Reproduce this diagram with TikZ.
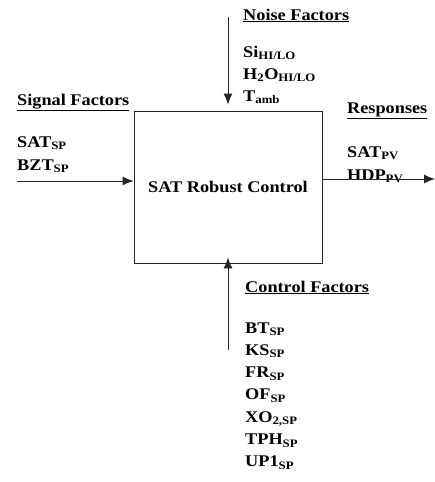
\documentclass[tikz,border=0pt]{standalone}
\usepackage{fontspec}
\setmainfont[FakeStretch=1.12]{Liberation Serif}
\usetikzlibrary{arrows.meta}
\tikzset{
    factor/.style={anchor=base west, inner sep=0pt, font=\fontsize{16.3}{19}\selectfont\bfseries},
    flow/.style={-{Latex[length=11pt,width=9pt]}, line width=0.9pt, draw=black!85}
}
\begin{document}
\begin{tikzpicture}[x=1pt, y=-1pt]
    \useasboundingbox (0,0) rectangle (435,482);
    % Process box
    \node[draw=black!85, line width=0.9pt, minimum width=188pt, minimum height=152pt,
          font=\fontsize{16.3}{19}\selectfont\bfseries] (box) at (228,187) {SAT Robust Control};

    % Noise factors
    \node[factor] (noise) at (243,20) {\underline{Noise Factors}};
    \node[factor] (si) at (243,57) {Si\textsubscript{HI/LO}};
    \node[factor] (water) at (243,79) {H\textsubscript{2}O\textsubscript{HI/LO}};
    \node[factor] (tamb) at (243,101) {T\textsubscript{amb}};
    \coordinate (noisein) at (228,17);
    \draw[flow] (noisein) -- ([yshift=6pt]box.north);

    % Signal factors
    \node[factor] (signal) at (17,105) {\underline{Signal Factors}};
    \node[factor] (satsp) at (17,147) {SAT\textsubscript{SP}};
    \node[factor] (bztsp) at (17,170) {BZT\textsubscript{SP}};
    \coordinate (signalin) at (17,181);
    \draw[flow] (signalin) -- (signalin -| box.west);

    % Responses
    \node[factor] (resp) at (347,113) {\underline{Responses}};
    \node[factor] (satpv) at (347,157) {SAT\textsubscript{PV}};
    \node[factor] (hdppv) at (347,180) {HDP\textsubscript{PV}};
    \coordinate (respout) at (435,179);
    \draw[flow] (respout -| box.east) -- (respout);

    % Control factors
    \node[factor] (control) at (245,292) {\underline{Control Factors}};
    \foreach \txt [count=\i] in {BT\textsubscript{SP}, KS\textsubscript{SP}, FR\textsubscript{SP},
        OF\textsubscript{SP}, {XO\textsubscript{2,SP}}, TPH\textsubscript{SP}, UP1\textsubscript{SP}}
        \node[factor] (ctrl\i) at (245,310.7+22.3*\i) {\txt};
    \coordinate (controlin) at (228,350);
    \draw[flow] (controlin) -- ([yshift=6pt]box.south);
\end{tikzpicture}
\end{document}
